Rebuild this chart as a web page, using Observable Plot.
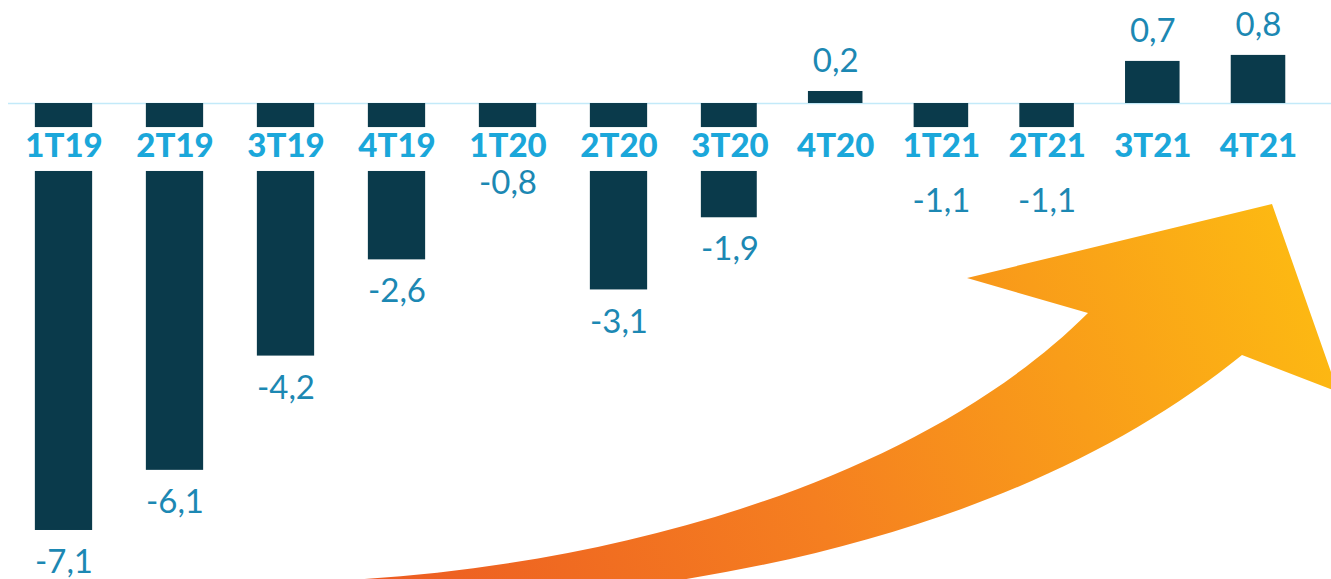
<!DOCTYPE html>
<html>
<head>
<meta charset="utf-8">
<script src="https://cdn.jsdelivr.net/npm/d3@7"></script>
<script src="https://cdn.jsdelivr.net/npm/@observablehq/plot@0.6"></script>
<style>
  html, body { margin: 0; padding: 0; background: #ffffff; }
  #chart svg { display: block; }
</style>
</head>
<body>
<div id="chart"></div>
<script>
// ---- data ----
const categories = ["1T19","2T19","3T19","4T19","1T20","2T20","3T20","4T20","1T21","2T21","3T21","4T21"];
const values = [-7.1, -6.1, -4.2, -2.6, -0.8, -3.1, -1.9, 0.2, -1.1, -1.1, 0.7, 0.8];

const data = categories.map((c, i) => ({i, cat: c, value: values[i], label: values[i].toFixed(1).replace(".", ",")}));

const barColor = "#0A3A4B";
const catColor = "#1BA7DA";
const valColor = "#1C88B3";
const half = 0.258;           // half bar width in category steps
const catLabelY = -0.72;      // vertical position of the category label row
const band = {y1: -0.40, y2: -1.13}; // white strip behind the category labels

// decorative arrow (drawn as a render-function mark)
function arrowMark(index, scales, values, dims) {
  const g = d3.create("svg:g");
  const defs = g.append("defs");
  const grad = defs.append("linearGradient")
    .attr("id", "arrowGrad").attr("gradientUnits", "userSpaceOnUse")
    .attr("x1", 350).attr("y1", 580).attr("x2", 1300).attr("y2", 200);
  grad.append("stop").attr("offset", 0).attr("stop-color", "#EC5A22");
  grad.append("stop").attr("offset", 0.45).attr("stop-color", "#F57F20");
  grad.append("stop").attr("offset", 1).attr("stop-color", "#FDBB12");
  const d = "M348,580 C620,565 920,480 1088,313" +
            " L967,278 L1272,204 L1338,392 L1242,355" +
            " C1100,470 900,550 640,586 L348,586 Z";
  g.append("path").attr("d", d).attr("fill", "url(#arrowGrad)");
  return g.node();
}

const chart = Plot.plot({
  width: 1331,
  height: 579,
  marginTop: 0,
  marginBottom: 0,
  marginLeft: 8,
  marginRight: 0,
  style: {background: "#ffffff", fontFamily: "Lato, 'Liberation Sans', sans-serif", overflow: "visible"},
  x: {type: "linear", domain: [0, 6, 11], range: [63.5, 729.5, 1258], axis: null},
  y: {domain: [-7.915, 1.713], axis: null},
  marks: [
    Plot.ruleY([0], {stroke: "#C3EAF9", strokeWidth: 1.6}),
    Plot.rect(data, {x1: d => d.i - half, x2: d => d.i + half, y1: 0, y2: "value", fill: barColor}),
    Plot.rect([band], {x1: -1, x2: 12, y1: "y1", y2: "y2", fill: "#ffffff"}),
    Plot.text(data, {x: "i", y: catLabelY, text: "cat", fill: catColor, fontSize: 33, fontWeight: 900, lineAnchor: "middle"}),
    Plot.text(data.filter(d => d.value < 0), {x: "i", y: "value", text: "label", fill: valColor, fontSize: 33, dy: 32, lineAnchor: "middle"}),
    Plot.text(data.filter(d => d.value >= 0), {x: "i", y: "value", text: "label", fill: valColor, fontSize: 33, dy: -30, lineAnchor: "middle"}),
    arrowMark
  ]
});
document.getElementById("chart").appendChild(chart);
</script>
</body>
</html>
